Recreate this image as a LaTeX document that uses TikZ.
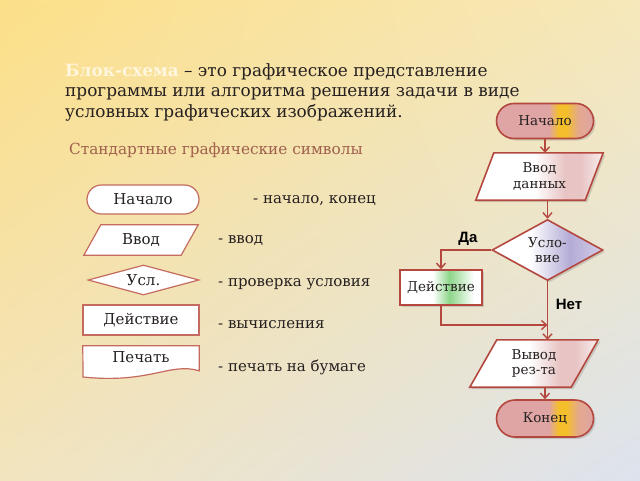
\documentclass[tikz,border=0pt]{standalone}
\usepackage{fontspec}
\setmainfont{DejaVu Serif}
\newfontfamily\lsans{Liberation Sans}
\usetikzlibrary{shapes.geometric,shapes.misc,arrows.meta,shadows,shadings}
\definecolor{bgA}{HTML}{FCDF88}
\definecolor{bgB}{HTML}{F6E8BA}
\definecolor{bgC}{HTML}{F2E4BE}
\definecolor{bgD}{HTML}{DDE3EE}
\definecolor{edge}{HTML}{B4483F}
\definecolor{ledge}{HTML}{C46A5E}
\definecolor{pk}{HTML}{DFA4A4}
\definecolor{gd}{HTML}{F4BF2A}
\definecolor{pk2}{HTML}{E8C4C4}
\definecolor{lav}{HTML}{B4ACD6}
\definecolor{grn}{HTML}{8ED68A}
\definecolor{sub}{HTML}{A0604C}
\definecolor{ink}{HTML}{262020}
\pgfdeclarehorizontalshading{pinkgold}{100bp}{color(0bp)=(pk); color(25bp)=(pk); color(52bp)=(pk); color(57bp)=(gd); color(61bp)=(gd); color(67bp)=(pk!80!gd); color(75bp)=(pk); color(100bp)=(pk)}
\pgfdeclarehorizontalshading{whitepink}{100bp}{color(0bp)=(white); color(25bp)=(white); color(48bp)=(white); color(60bp)=(pk2); color(66bp)=(pk2); color(75bp)=(white!70!pk2); color(100bp)=(white)}
\pgfdeclarehorizontalshading{whitelav}{100bp}{color(0bp)=(white); color(25bp)=(white); color(42bp)=(white); color(60bp)=(lav); color(75bp)=(lav!60!white); color(100bp)=(white)}
\pgfdeclarehorizontalshading{whitegreen}{100bp}{color(0bp)=(white); color(25bp)=(white); color(45bp)=(white); color(55bp)=(grn); color(59bp)=(grn!75!white); color(70bp)=(white); color(100bp)=(white)}
\tikzset{
  lsym/.style={draw=ledge, line width=1.2pt, fill=white, text=ink, font=\fontsize{15}{17}\selectfont, inner sep=0pt},
  lbox/.style={inner sep=0pt, text=ink, font=\fontsize{15}{17}\selectfont},
  lline/.style={draw=ledge, line width=1.2pt, fill=white},
  rsym/.style={draw=edge, line width=1.6pt, text=ink, font=\fontsize{13.5}{15.5}\selectfont, align=center, inner sep=0pt,
    drop shadow={shadow xshift=2pt, shadow yshift=-2pt, opacity=0.3}},
  rbox/.style={inner sep=0pt, text=ink, font=\fontsize{13.5}{15.5}\selectfont, align=center},
  rline/.style={draw=edge, line width=1.6pt, drop shadow={shadow xshift=2pt, shadow yshift=-2pt, opacity=0.3}},
  conn/.style={draw=edge, line width=1.8pt, -{Straight Barb[length=5pt,width=9pt,line width=1.4pt]}},
  plain/.style={draw=edge, line width=1.8pt},
  desc/.style={anchor=base west, text=ink, font=\fontsize{15}{17}\selectfont, inner sep=0pt},
  title/.style={anchor=base west, text=ink, font=\fontsize{16.9}{20}\selectfont, inner sep=0pt},
  yesno/.style={text=black, font=\lsans\bfseries\fontsize{15}{17}\selectfont, inner sep=0pt}
}
\begin{document}
\begin{tikzpicture}[x=1pt,y=-1pt]
\useasboundingbox (0,0) rectangle (640,480);
\shade[upper left=bgA, upper right=bgB, lower left=bgC, lower right=bgD] (0,0) rectangle (640,480);

% title
\node[title] (t1) at (65,76) {\textcolor[HTML]{FFF6DE}{\bfseries Блок-схема} – это графическое представление};
\node[title] (t2) at (65,96.5) {программы или алгоритма решения задачи в виде};
\node[title] (t3) at (65,117) {условных графических изображений.};
\node[anchor=base west, text=sub, font=\fontsize{15.3}{17}\selectfont, inner sep=0pt] (sub) at (69,154) {Стандартные графические символы};

% legend shapes
\node[lsym, rounded rectangle, minimum width=112pt, minimum height=29pt] (lstart) at (143,199.5) {Начало};
\node[lbox, minimum width=114pt, minimum height=30pt] (lin) at (141,240) {};
\path[lline] (lin.south west) -- ([xshift=17pt]lin.north west) -- (lin.north east) -- ([xshift=-17pt]lin.south east) -- cycle;
\node[lbox] at (lin) {Ввод};
\node[lsym, diamond, aspect=3.6, minimum width=111pt, minimum height=30pt] (lcond) at (143.5,280) {Усл.};
\node[lsym, rectangle, minimum width=116pt, minimum height=30pt] (lact) at (141,320) {Действие};
\node[lbox, minimum width=116pt, minimum height=22pt] (lprint) at (141,357) {};
\path[lline] (lprint.north west) -- (lprint.north east) -- ++(0,25)
  .. controls (170,362) and (150,384) .. (83,377) -- cycle;
\node[lbox] at (lprint) {Печать};

\node[desc] (d1) at (253,203) {- начало, конец};
\node[desc] (d2) at (218,243) {- ввод};
\node[desc] (d3) at (218,286) {- проверка условия};
\node[desc] (d4) at (218,328) {- вычисления};
\node[desc] (d5) at (218,371) {- печать на бумаге};

% flowchart
\node[rsym, rounded rectangle, minimum width=97pt, minimum height=35pt, shading=pinkgold] (start) at (545,121) {Начало};
\node[rbox, minimum width=127pt, minimum height=47pt] (inp) at (539.5,176.5) {};
\path[rline, shading=whitepink] (inp.south west) -- ([xshift=18pt]inp.north west) -- (inp.north east) -- ([xshift=-18pt]inp.south east) -- cycle;
\node[rbox] at (inp) {Ввод\\данных};
\node[rsym, diamond, aspect=1.8, minimum width=111pt, minimum height=61pt, shading=whitelav] (cond) at (547.5,250) {Усло-\\вие};
\node[rsym, rectangle, minimum width=82pt, minimum height=35pt, shading=whitegreen] (act) at (441,287.5) {Действие};
\node[rbox, minimum width=128pt, minimum height=47pt] (outp) at (534,363.5) {};
\path[rline, shading=whitepink] (outp.south west) -- ([xshift=27pt]outp.north west) -- (outp.north east) -- ([xshift=-27pt]outp.south east) -- cycle;
\node[rbox] at (outp) {Вывод\\рез-та};
\node[rsym, rounded rectangle, minimum width=97pt, minimum height=37pt, shading=pinkgold] (end) at (545,418.5) {Конец};

\coordinate (join) at (547.5,325);
\draw[conn] (start.south) -- (start.south |- inp.north);
\draw[conn] (cond.north |- inp.south) -- (cond.north);
\draw[conn] (cond.west) -| (act.north);
\draw[plain] (cond.south) -- (join);
\draw[conn] (act.south) |- (join);
\draw[conn] (join) -- (join |- outp.north);
\draw[conn] (end.north |- outp.south) -- (end.north);
\node[yesno] (yes) at (468,239) {Да};
\node[yesno] (no) at (569,304) {Нет};
\end{tikzpicture}
\end{document}
